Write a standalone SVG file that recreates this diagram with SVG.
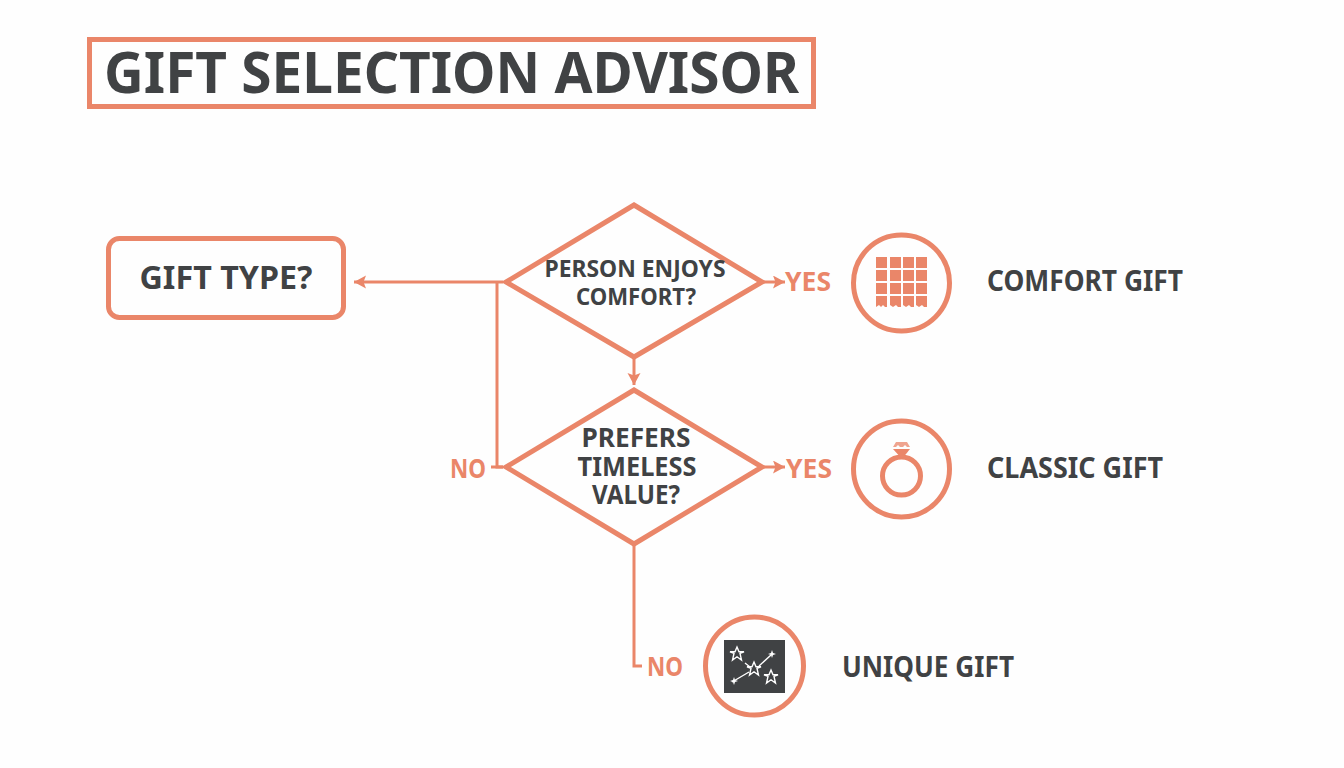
<svg xmlns="http://www.w3.org/2000/svg" width="1344" height="768" viewBox="0 0 1344 768">
<defs>
<style>
.t{font-family:"Noto Sans","Open Sans","Liberation Sans",sans-serif;font-weight:700;fill:#404244}
.o{font-family:"Noto Sans","Open Sans","Liberation Sans",sans-serif;font-weight:700;fill:#ea8669}
.s{fill:none;stroke:#ea8669}
.f{fill:#ea8669}
.w{fill:none;stroke:#fff;stroke-width:1.4}
</style>
<marker id="a" markerUnits="userSpaceOnUse" markerWidth="14" markerHeight="14" refX="12" refY="6.500" orient="auto"><path d="M0 0L12 6.500L0 13L2.500 6.500Z" fill="#ea8669"/></marker>
<path id="star" d="M0-7L2-2.2L7-2.2L3-.6L4.500 6L0 2.800L-4.500 6L-3-.6L-7-2.200L-2-2.200Z"/>
</defs>
<rect width="1344" height="768" fill="#fefefe"/>
<g id="title"><rect class="s" x="89.500" y="39.500" width="724" height="67" stroke-width="5"/><text class="t" x="104" y="93" font-size="58" textLength="695" lengthAdjust="spacingAndGlyphs">GIFT SELECTION ADVISOR</text></g>
<g id="connectors" class="s" stroke-width="3">
<path d="M503 282H354" marker-end="url(#a)"/>
<path d="M497 282V467H503"/>
<path d="M491 467H503"/>
<path d="M763 282H785" marker-end="url(#a)"/>
<path d="M634 358V385" marker-end="url(#a)"/>
<path d="M763 467H785" marker-end="url(#a)"/>
<path d="M634 545V666H642"/>
</g>
<g id="start"><rect class="s" x="108.500" y="238.500" width="235" height="79" rx="11" stroke-width="5"/><text class="t" x="226" y="289" font-size="33" text-anchor="middle" textLength="173" lengthAdjust="spacingAndGlyphs">GIFT TYPE?</text></g>
<g id="d1"><path class="s" stroke-width="5" d="M634 205L762 282L634 357L506 282Z"/><text class="t" font-size="24" text-anchor="middle"><tspan x="635" y="277" textLength="181" lengthAdjust="spacingAndGlyphs">PERSON ENJOYS</tspan><tspan x="636" y="305" textLength="120" lengthAdjust="spacingAndGlyphs">COMFORT?</tspan></text></g>
<g id="d2"><path class="s" stroke-width="5" d="M634 390L762 467L634 544L506 467Z"/><text class="t" font-size="27" text-anchor="middle"><tspan x="636" y="447" textLength="109" lengthAdjust="spacingAndGlyphs">PREFERS</tspan><tspan x="637" y="476" textLength="119" lengthAdjust="spacingAndGlyphs">TIMELESS</tspan><tspan x="636" y="504" textLength="88" lengthAdjust="spacingAndGlyphs">VALUE?</tspan></text></g>
<g id="labels" class="o" font-size="27">
<text x="785" y="291" textLength="46" lengthAdjust="spacingAndGlyphs">YES</text>
<text x="786" y="478" textLength="46" lengthAdjust="spacingAndGlyphs">YES</text>
<text x="450" y="478" textLength="36" lengthAdjust="spacingAndGlyphs">NO</text>
<text x="647" y="676" textLength="36" lengthAdjust="spacingAndGlyphs">NO</text>
</g>
<g id="comfort"><circle class="s" cx="901.500" cy="283" r="48" stroke-width="5"/>
<g class="f"><path d="M876 257h11v11h-11zM890 257h11v11h-11zM903 257h11v11h-11zM916 257h11v11h-11zM876 270h11v11h-11zM890 270h11v11h-11zM903 270h11v11h-11zM916 270h11v11h-11zM876 283h11v11h-11zM890 283h11v11h-11zM903 283h11v11h-11zM916 283h11v11h-11z"/>
<path d="M876 296h11v11l-2 0-2-2-2 2-2-2-3 2zM890 296h11v11l-3 0-2-2-3 2-3-2zM903 296h11v11l-3 0-2-2-3 2-3-2zM916 296h11v11l-3 0-2-2-3 2-3-2z"/></g>
<text class="t" x="987" y="291" font-size="28" textLength="196" lengthAdjust="spacingAndGlyphs">COMFORT GIFT</text></g>
<g id="classic"><circle class="s" cx="901.500" cy="469" r="48" stroke-width="5"/><circle class="s" cx="901.500" cy="476" r="19" stroke-width="5"/>
<path class="f" d="M893 447l3-5h11l3 5h-3l-2-2-2 2h-3l-2-2-2 2z" opacity=".75"/><path class="f" d="M893 449h17l-8 10z"/>
<text class="t" x="987" y="478" font-size="28" textLength="176" lengthAdjust="spacingAndGlyphs">CLASSIC GIFT</text></g>
<g id="unique"><circle class="s" cx="754.500" cy="666" r="49" stroke-width="5"/><rect x="724" y="640" width="61" height="53" fill="#404244"/>
<use href="#star" class="w" x="737" y="654"/><use href="#star" class="w" x="754" y="669"/><use href="#star" class="w" x="771" y="677"/>
<path class="w" d="M745 663L750 667M732 682L749 672M759 666L771 655"/><path d="M772 650l1 3 3 1-3 1-1 3-1-3-3-1 3-1zM734 677l1 3 3 1-3 1-1 3-1-3-3-1 3-1z" fill="#fff"/>
<text class="t" x="842" y="677" font-size="28" textLength="172" lengthAdjust="spacingAndGlyphs">UNIQUE GIFT</text></g>
</svg>
